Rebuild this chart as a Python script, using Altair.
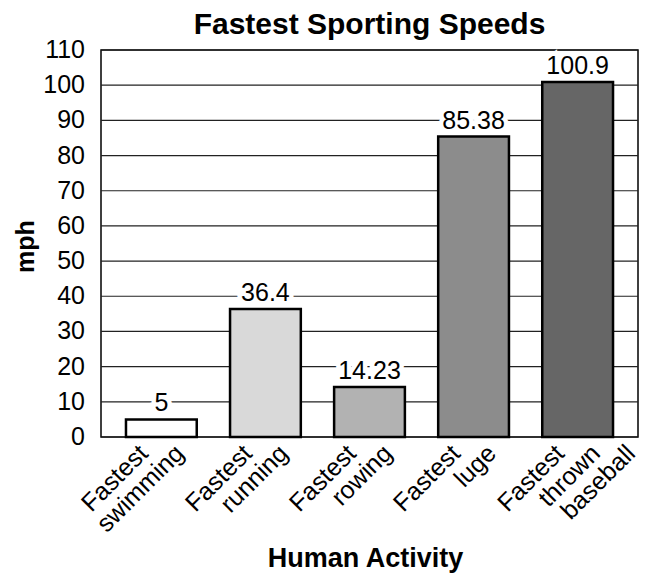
import altair as alt
import pandas as pd

activities = ["Fastest swimming", "Fastest running", "Fastest rowing", "Fastest luge", "Fastest thrown baseball"]
speeds = [5, 36.4, 14.23, 85.38, 100.9]
labels = ["5", "36.4", "14.23", "85.38", "100.9"]
colors = ["#ffffff", "#d9d9d9", "#b2b2b2", "#8c8c8c", "#666666"]
y_ticks = [0, 10, 20, 30, 40, 50, 60, 70, 80, 90, 100, 110]

df = pd.DataFrame({"activity": activities, "mph": speeds, "label": labels, "color": colors})
ticks_df = pd.DataFrame({"mph": y_ticks, "tick": [str(v) for v in y_ticks]})

# one row per category-label line (category names split on spaces)
line_rows = []
for a in activities:
    for i, w in enumerate(a.split(" ")):
        line_rows.append({"activity": a, "line": i, "word": w})
lines_df = pd.DataFrame(line_rows)

FONT = "Liberation Sans"
LABEL_SIZE = 25

x_scale = alt.Scale(domain=activities, paddingInner=0.32, paddingOuter=0.24)
y_scale = alt.Scale(domain=[0, 110], nice=False)

x_axis = alt.Axis(
    title="Human Activity",
    titleFont=FONT, titleFontSize=27, titleFontWeight="bold", titleColor="black",
    titleX=264, titleY=121, titleAlign="center", titleBaseline="middle",
    labels=False, ticks=False, domain=False, grid=False,
)
y_axis = alt.Axis(
    title="mph",
    titleFont=FONT, titleFontSize=25, titleFontWeight="bold", titleColor="black",
    titleX=-76, titleY=196, titleAlign="center", titleBaseline="middle", titleAngle=-90,
    labels=False, ticks=False, domain=False, grid=False,
)

X = alt.X("activity:N", scale=x_scale, axis=x_axis, title="Human Activity")
Y = alt.Y("mph:Q", scale=y_scale, axis=y_axis, title="mph")

# gridlines and tick labels every 10 mph
grid = alt.Chart(ticks_df).mark_rule(color="#222222", strokeWidth=1.2).encode(y=Y)
tick_labels = alt.Chart(ticks_df).mark_text(
    font=FONT, fontSize=LABEL_SIZE, align="right", baseline="middle", color="black",
).encode(y=Y, x=alt.value(-16), text="tick:N")

bars = alt.Chart(df).mark_bar(stroke="black", strokeWidth=2.5).encode(
    x=X, y=Y, fill=alt.Fill("color:N", scale=None),
)

halo = alt.Chart(df).mark_text(
    font=FONT, fontSize=LABEL_SIZE, baseline="bottom", dy=-3,
    stroke="white", strokeWidth=9, fill="white",
).encode(x=X, y=Y, text="label:N")

text = alt.Chart(df).mark_text(
    font=FONT, fontSize=LABEL_SIZE, baseline="bottom", dy=-3, color="black",
).encode(x=X, y=Y, text="label:N")

# category labels: rotated -45deg, each line right-aligned and shifted horizontally
line_layers = []
for i, shift in enumerate([-12, 24, 59]):
    d = 0.7071 * shift
    line_layers.append(
        alt.Chart(lines_df).transform_filter(alt.datum.line == i).mark_text(
            font=FONT, fontSize=LABEL_SIZE, angle=315, align="right",
            baseline="alphabetic", dx=d, dy=d, color="black",
        ).encode(
            x=X,
            y=alt.value(405),
            text="word:N",
        )
    )

chart = alt.layer(grid, tick_labels, bars, halo, text, *line_layers).properties(
    width=537,
    height=387,
    autosize=alt.AutoSizeParams(type="none"),
    padding={"left": 93, "top": 42, "right": 1, "bottom": 136},
    title=alt.TitleParams(
        "Fastest Sporting Speeds", font=FONT, fontSize=30, fontWeight="bold",
        color="black", anchor="middle", offset=-2,
    ),
).configure_view(stroke="black", strokeWidth=1.5)

chart.save("out.html", embed_options={"renderer": "svg", "actions": False})
